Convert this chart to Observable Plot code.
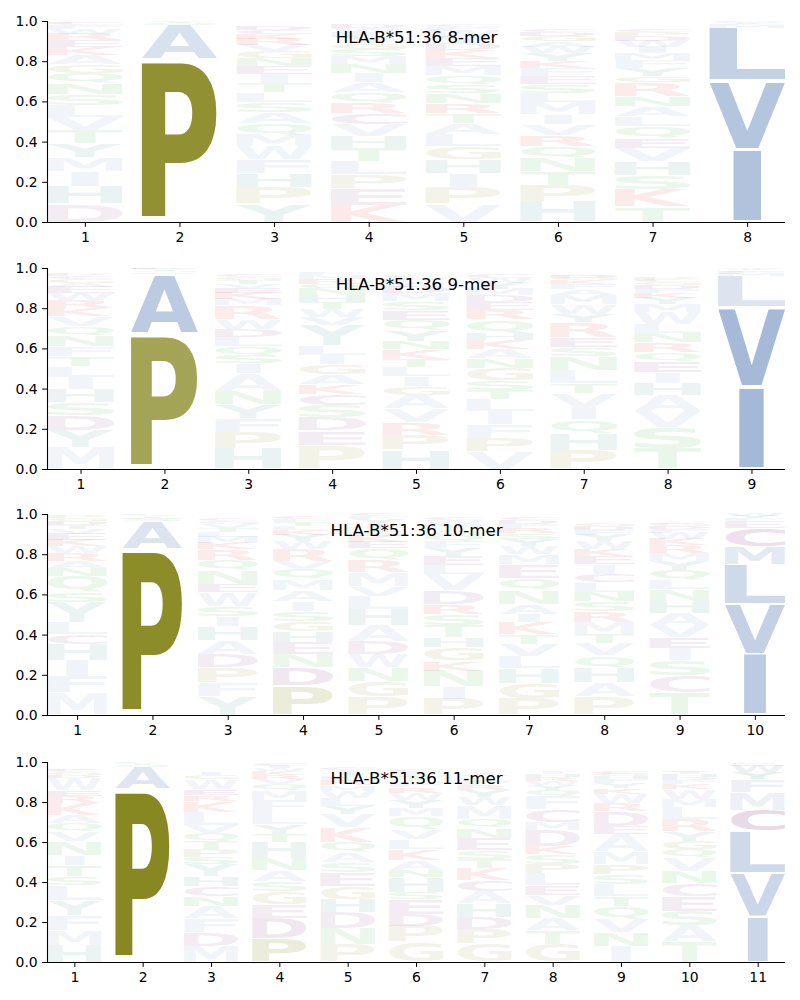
<!DOCTYPE html>
<html><head><meta charset="utf-8">
<script src="https://cdn.jsdelivr.net/npm/d3@7"></script>
<script src="https://cdn.jsdelivr.net/npm/@observablehq/plot@0.6"></script>
<style>
body{margin:0;background:#fff;}
#charts{width:800px;}
#charts svg{display:block;}
</style></head><body><div id="charts"></div>
<script>
// ---- data: one string per position, letters from bottom to top, "LetterHeight%[:opacity]" ----
const titles = ["HLA-B*51:36 8-mer", "HLA-B*51:36 9-mer", "HLA-B*51:36 10-mer", "HLA-B*51:36 11-mer"];
const peptideLengths = [8, 9, 10, 11];

const cols8 = [
  "D9 H8.5 I7.5 M7 Y7 T6.5 V6.5 L6 S5.5 N5.5 Q5 G4.5 A4.5 K4 E3.5 R3 W2.5 F2 C1 P0.5",
  "P81:0.92 A17:0.27 S0.5 G0.4 T0.4 V0.3 L0.2 E0.2",
  "Y9 P8 H7 F7 W6.5 M6 Q5.5 A5.5 S5 L5 T4.5 I4.5 E4 N4 G3.5 V3 R3 K2.5 C2 D2",
  "K8.5 E8 P7 L6.5 T6.5 H6 V6 C5.5 R5.5 Q5 A5 I4.5 N4.5 M4 S3.5 G3 Y3 F2.5 W2 D2",
  "V9 P8 I7 H7 G6.5 L6 A5.5 T5 R5 N5 S4.5 Q4.5 M4.5 E4 K4 D3.5 Y3 W3 F2 C1.5",
  "H10 P8 T7 N6.5 Q6 R5.5 V5.5 I5 M6 L4.5 S4.5 E4 F4 K3.5 Y4 W3 A3 G2.5 D2 C1.5",
  "T7.5 K8.5 S7 H7 V6.5 E5 Q6 L5 A5 N5 R7 G3 Y4 F4 M3.5 I3 W3 D2.5 P2 C1.5",
  "I36.2:0.55 V34.1:0.52 L26.3:0.41 M1.2 F0.8 Y0.6 W0.4 C0.4"
];
const cols9 = [
  "M10.5 Y8.5 D7.5 S6.5 H6.5 I6 L5.5 T5 F5 N5.5 Q4.5 V5 K4 R4 W3.5 E3 A2 G2 C1.5 P1",
  "P67:0.76 A30:0.47 S0.8 G0.6 T0.5 V0.4 L0.4 E0.3",
  "H10 P8 F7 Y7 N6.5 A9 I5 S4 Q4.5 L4.5 D4 W5 R7 M3 K3 E2.5 V2 T2 G1.5 C1",
  "P12 E7 D6.5 S6 C5.5 K5 A5 G5 I4.5 L5 Y10 V4 W4 T3.5 H3.5 N3 Q2.5 R2.5 M2 F1",
  "H9.5 P7.5 R6 V7 A6.5 G4.5 I5 L4.5 T4 K5 N4 Y5.5 Q5 E5 S4.5 M4 D3 W2.5 F2 C1.5",
  "V8.5 P7 F6.5 I6.5 L6 T4.5 S5 G6 N5 A4.5 K4.5 H3.5 Q7 R4.5 E4 D3.5 M3 Y3 W2.5 C2",
  "P9.5 H8 Q7 I6 V7 T5 L6.5 N7 S4.5 E5 R7.5 Y4 W5 M4.5 A3 F2.5 K2 G1 D1 C0.5",
  "T10 S10.5 V8 A8 H6 I5.5 E5.5 Q4.5 R5 N4.5 L4.5 W6 M4 Y3 K2.5 F2 D2 G1.5 C1 P1",
  "I41:0.64 V39.5:0.62 L15.5:0.24 M1.2 F1 C0.8 Y0.5 W0.5"
];
const cols10 = [
  "M11 F8 I8 H8 C5 L6 Y10 S5 Q8 N4 A3.5 R4 W3.5 K3 E3 V2.5 T2 D2 G1.5 P1",
  "P82.8:0.97 A13.5:0.24 S1 G0.8 T0.7 V0.6 L0.6",
  "Y9.5 F6.5 P7.5 D6.5 A7 H7 I5 S5 W7 E4 N7 Q5 R5.5 K3 M3 L2.5 T2 V2 G1.5 C1",
  "P14.5:0.16 D9:0.13 N6.5 E6 H5.5 G5 S5 I5 A5.5 M5.5 Q5 V4 R6 W4 Y3 K2.5 L2 T2 F1.5 C1",
  "P9 G8 N6.5 W6.5 D6.5 A8 H8 L6.5 V5 M7 R6 Q6 E3 K3 S2.5 T2 I2 Y2 F1.5 C1",
  "P8 I6 N8 K5 G6.5 H5 T6 S5.5 R5 D7 V8 L4.5 E4.5 Y4 F3.5 Q3 A3 M2.5 W2 C1.5",
  "P8 G7.5 H7.5 L6 V6 T5 K6 I4 A5 N7 Q6 E7 M5 W4 Y3.5 S3 R2.5 F2 D2 C1",
  "P9 A7 H7.5 Q6 V6 T4.5 M6 R5.5 S5 N4.5 L5 C4 I5 E4 K3.5 W4 Y3 F2.5 D2 G1.5",
  "T11 C8.5 S7.5 I6 E5.5 V6 A6 H6.5 N5.5 L4.5 Q5 Y4.5 M4 R4 K3 W3 F2 D1.5 G1 P0.5",
  "I30.3:0.47 V25:0.41 L19.8:0.34 M8.8:0.2 C9.3:0.18 E3.3 F1.5 Y1 W1"
];
const cols11 = [
  "H8.5 M7.5 F7.5 Y7.5 L7.5 S4.5 T5.5 I5 N7 V4.5 Q4.5 A4 K6 R3.5 E3 W6 D1.5 G1.5 C1 P0.5",
  "P86.4:1 A11.2:0.22 S0.6 G0.5 T0.5 V0.4 L0.4",
  "M8 D7 F7 A6 N5 C5 H5 Y6 S3.5 P4 T4 Q4 V4 L6.5 K5.5 R3 E3 W5 G2 I1.5",
  "P12:0.16 D10:0.13 E7 G6.5 S5 A5.5 N6 H8 T4 Y5 L6 F6 M5 Q3 V2.5 R2 K2 W1.5 I1 C1",
  "P9 N8 D8 H6.5 G6.5 E7 S5 A5 Q5 K7.5 V6.5 Y4 L4 W3.5 M3 R2.5 F2 T1.5 I1.5 C1",
  "G10 P8 D6 E7.5 S3.5 H7.5 N3.5 A5 K5.5 L5 V5 Q6.5 M4 Y4 W3.5 R3 F3 T2.5 I2 C1.5",
  "G9 P7.5 D6 H7 A6 C5.5 K6 T4.5 S4.5 E6 N5 Q4.5 M7 W4 Y3.5 R2.5 F2 L1.5 V1.5 I1",
  "G9 T7 A6 N6.5 V5 E5 L6 P4.5 S5 K4 D8 M4 C6.5 F6.5 Q3 Y2.5 W2 R2 H1.5 I1",
  "I8 N7 V6.5 Q6.5 T5 L6 S5 P5 M6 A9 E4 D7.5 R4 W4.5 K3 Y2.5 F2 H1.5 G1 C1",
  "T10 A8 S7.5 E7.5 C6.5 N6 V7 Q4 G4 Y5 R6 L6 M4 W5 K2.5 F2 D1.5 H1.5 I1 P0.5",
  "I22.5:0.36 V22.1:0.36 L21.1:0.34 C10.3:0.2 M9:0.14 F6.2:0.12 Y3.5:0.12 W3.5:0.12 E0.8 K0.5"
];
const allColumns = [cols8, cols9, cols10, cols11];

// residue colour groups
const groupColor = {
  A: "#7090c0", V: "#7090c0", L: "#7090c0", I: "#7090c0", M: "#7090c0", F: "#7090c0", W: "#7090c0",
  P: "#888822", G: "#888822",
  S: "#33aa33", T: "#33aa33", N: "#33aa33", Q: "#33aa33",
  K: "#dd3333", R: "#dd3333",
  D: "#884488", E: "#884488", C: "#884488",
  H: "#338888", Y: "#338888"
};
const faintOpacity = 0.1;

// ---- build tables ----
function buildRows(cols) {
  const rows = [];
  cols.forEach((s, i) => {
    let cum = 0;
    s.trim().split(/\s+/).forEach(tok => {
      const letter = tok[0];
      const [h, op] = tok.slice(1).split(":");
      const height = +h / 100;
      const y1 = cum, y2 = Math.min(1, cum + height);
      cum += height;
      rows.push({pos: i + 1, letter, y1, y2, xc: i + 1, yc: (y1 + y2) / 2,
                 color: groupColor[letter], op: op !== undefined ? +op : faintOpacity});
    });
  });
  return rows;
}

// glyph ink metrics
const cnv = document.createElement("canvas");
const ctx = cnv.getContext("2d");
const FS = 100;
const FONT = '"DejaVu Sans", "Liberation Sans", sans-serif';
ctx.font = `bold ${FS}px ${FONT}`;
const metricCache = {};
function metrics(ch) {
  if (!metricCache[ch]) {
    const m = ctx.measureText(ch);
    let l = m.actualBoundingBoxLeft, r = m.actualBoundingBoxRight,
        a = m.actualBoundingBoxAscent, d = m.actualBoundingBoxDescent;
    if (!(r + l > 0) || !(a + d > 0)) { l = 0; r = m.width || 60; a = 73; d = 0; }
    metricCache[ch] = {l, r, a, d};
  }
  return metricCache[ch];
}
const refM = metrics("E");
const refW = refM.l + refM.r;

const margins = [[21, 25], [21, 25], [20, 26], [21, 39]];
const container = document.getElementById("charts");

peptideLengths.forEach((L, k) => {
  const rows = buildRows(allColumns[k]);
  const [mt, mb] = margins[k];
  const innerH = k === 3 ? 200 : 201;
  const x0 = 0.6, x1 = L + 0.4;
  const chart = Plot.plot({
    width: 800,
    height: mt + innerH + mb,
    marginLeft: 47, marginRight: 15, marginTop: mt, marginBottom: mb,
    style: {fontFamily: FONT, fontSize: "13.9px", color: "#000", background: "#fff", overflow: "visible"},
    x: {domain: [x0, x1], ticks: L, tickFormat: d => String(d), label: null, tickSize: 4.9, tickPadding: 4.9},
    y: {domain: [0, 1], ticks: 5, tickFormat: d3.format(".1f"), label: null, tickSize: 4.9, tickPadding: 4.9},
    marks: [
      Plot.text(rows, {x: "xc", y: "yc", text: "letter", fill: "color", fillOpacity: "op",
                       ariaDescription: "logo", fontWeight: "bold"}),
      Plot.ruleX([x0], {stroke: "#000", strokeWidth: 1.1}),
      Plot.ruleY([0], {stroke: "#000", strokeWidth: 1.1}),
      Plot.text([titles[k]], {x: (x0 + x1) / 2, y: 0.921, text: d => d, fontSize: 16.67,
                              fill: "#000", textAnchor: "middle"})
    ]
  });
  container.appendChild(chart);

  // stretch each glyph to fill its stack slot (via the plot's own scales);
  // glyphs narrower than "E" are not stretched more than "E" and are centred
  const xs = chart.scale("x"), ys = chart.scale("y");
  let g = chart.querySelector('g[aria-description="logo"]');
  if (!g) g = chart.querySelector('g[aria-label="text"]');
  if (g) {
    g.removeAttribute("transform");
    const texts = Array.from(g.querySelectorAll("text"));
    texts.forEach((el, n) => {
      const idx = typeof el.__data__ === "number" ? el.__data__ : n;
      const r = rows[idx];
      if (!r) return;
      const m = metrics(r.letter);
      const inkW = m.l + m.r;
      const pad = 0.025 * (r.y2 - r.y1);
      const px0 = xs.apply(r.pos - 0.4), px1 = xs.apply(r.pos + 0.4);
      const slotW = px1 - px0;
      const pyTop = ys.apply(r.y2 - pad), pyBot = ys.apply(r.y1 + pad);
      const sx = Math.min(slotW / inkW, slotW / refW);
      const sy = (pyBot - pyTop) / (m.a + m.d);
      const left = (px0 + px1) / 2 - inkW * sx / 2;
      ["x", "y", "dx", "dy"].forEach(a => el.removeAttribute(a));
      el.setAttribute("x", 0);
      el.setAttribute("y", 0);
      el.setAttribute("text-anchor", "start");
      el.setAttribute("font-size", FS + "px");
      el.setAttribute("font-weight", "bold");
      el.setAttribute("font-family", FONT);
      el.setAttribute("transform", `translate(${left + m.l * sx},${pyTop + m.a * sy}) scale(${sx},${sy})`);
    });
  }
});
</script>
</body></html>
